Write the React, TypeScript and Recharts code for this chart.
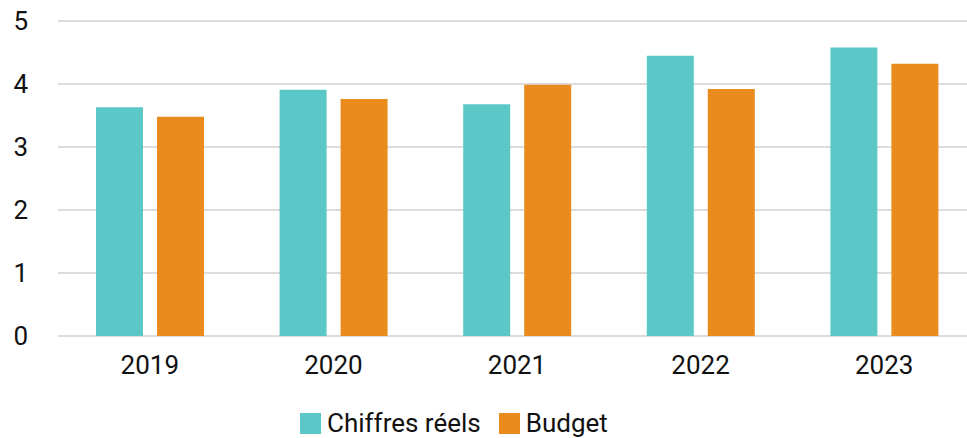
import { BarChart, Bar, XAxis, YAxis, CartesianGrid, Legend } from 'recharts';

const years = ['2019', '2020', '2021', '2022', '2023'];
const actuals = [3.63, 3.91, 3.68, 4.45, 4.58];
const budget = [3.48, 3.76, 3.99, 3.92, 4.32];
const yTicks = [0, 1, 2, 3, 4, 5];

const TEAL = '#5BC8C7';
const ORANGE = '#EA8C1D';
const FONT = 'Roboto, sans-serif';

const data = years.map((year, i) => ({
  year,
  actuals: actuals[i],
  budget: budget[i],
}));

function LegendContent() {
  const items = [
    { label: 'Chiffres réels', color: TEAL },
    { label: 'Budget', color: ORANGE },
  ];
  return (
    <div
      style={{
        height: 36,
        boxSizing: 'border-box',
        paddingTop: 6,
        paddingLeft: 300,
        display: 'flex',
        alignItems: 'center',
        fontFamily: FONT,
        fontSize: 26,
        color: '#111',
      }}
    >
      {items.map((it) => (
        <div key={it.label} style={{ display: 'flex', alignItems: 'center', marginRight: 18 }}>
          <span style={{ width: 21, height: 21, background: it.color, display: 'inline-block', marginRight: 6 }} />
          <span>{it.label}</span>
        </div>
      ))}
    </div>
  );
}

export default function App() {
  return (
    <div style={{ position: 'absolute', left: 0, top: 0, width: 967, height: 438, overflow: 'hidden', background: '#fff' }}>
      <BarChart
        width={976}
        height={438}
        data={data}
        margin={{ top: 21, right: 0, bottom: 0, left: 0 }}
        barSize={47}
        barGap={14}
      >
        <CartesianGrid horizontal vertical={false} stroke="#d0d0d0" strokeWidth={1.5} />
        <XAxis
          dataKey="year"
          axisLine={false}
          tickLine={false}
          tickSize={0}
          tickMargin={20}
          height={66}
          tick={{ fill: '#111', fontSize: 26, fontFamily: FONT }}
        />
        <YAxis
          domain={[0, 5]}
          ticks={yTicks}
          axisLine={false}
          tickLine={false}
          tickSize={0}
          tickMargin={30}
          width={58}
          tick={{ fill: '#111', fontSize: 26, fontFamily: FONT }}
        />
        <Legend
          verticalAlign="bottom"
          content={<LegendContent />}
          wrapperStyle={{ left: 0, width: 976, bottom: 0, height: 36 }}
        />
        <Bar dataKey="actuals" name="Chiffres réels" fill={TEAL} isAnimationActive={false} />
        <Bar dataKey="budget" name="Budget" fill={ORANGE} isAnimationActive={false} />
      </BarChart>
    </div>
  );
}
